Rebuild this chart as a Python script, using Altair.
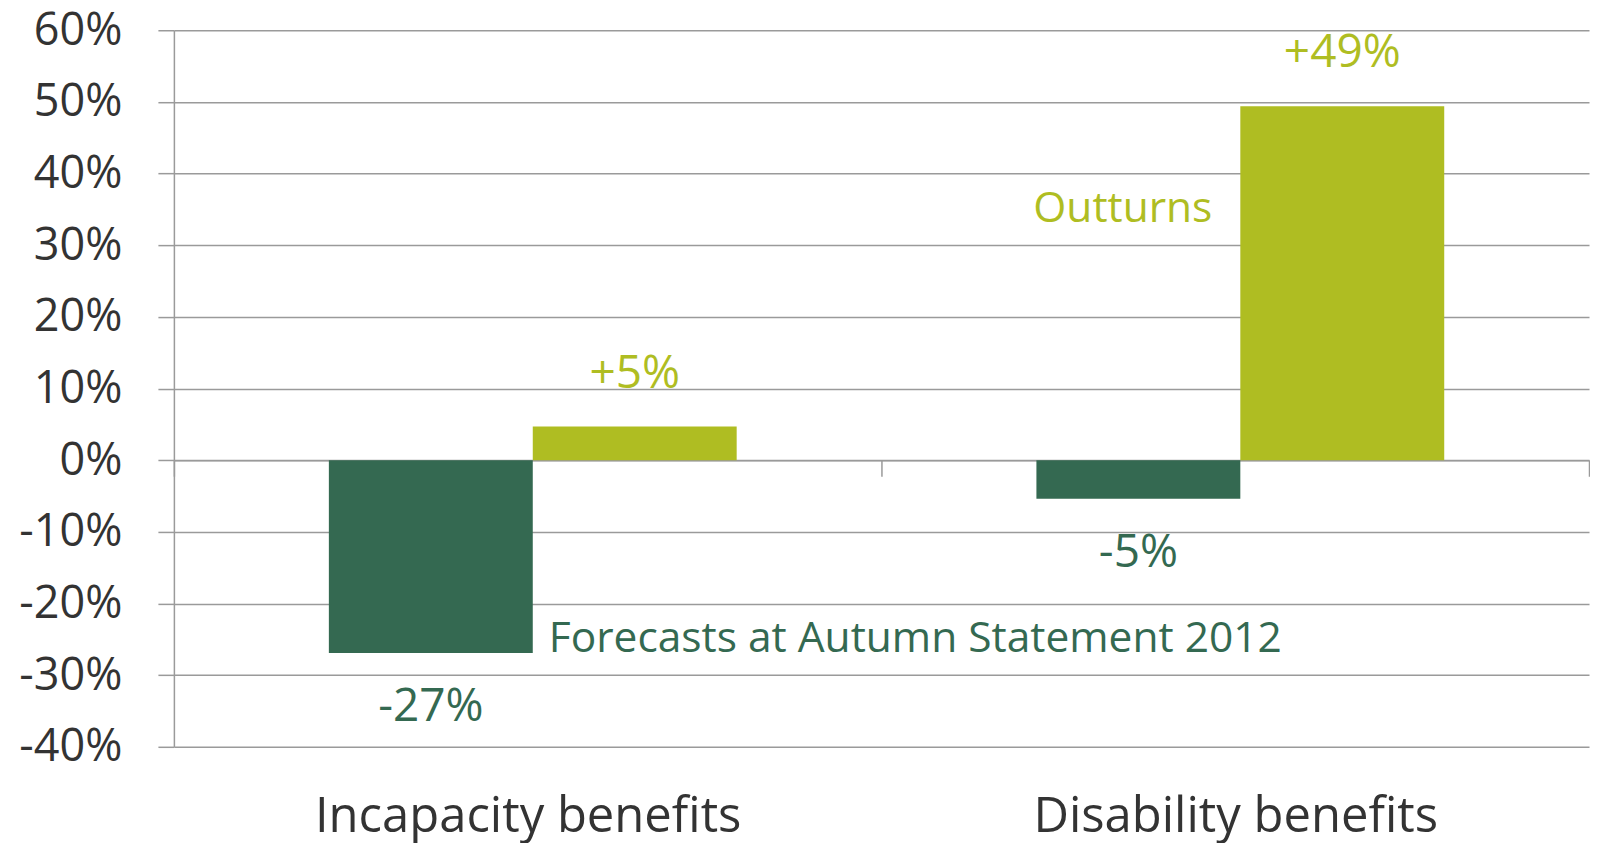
import altair as alt
import pandas as pd

# ---- data ----
categories = ["Incapacity benefits", "Disability benefits"]
series = ["Forecasts at Autumn Statement 2012", "Outturns"]
forecast_values = [-0.269, -0.054]
outturn_values = [0.047, 0.494]
forecast_labels = ["-27%", "-5%"]
outturn_labels = ["+5%", "+49%"]
y_ticks = [-0.4, -0.3, -0.2, -0.1, 0.0, 0.1, 0.2, 0.3, 0.4, 0.5, 0.6]

annot_text = ["Outturns", "Forecasts at Autumn Statement 2012"]
annot_category = ["Disability benefits", "Incapacity benefits"]
annot_series = ["Outturns", "Forecasts at Autumn Statement 2012"]
annot_value = [0.351, -0.249]

rows = []
for i, c in enumerate(categories):
    rows.append({"category": c, "series": series[0], "value": forecast_values[i], "label": forecast_labels[i]})
    rows.append({"category": c, "series": series[1], "value": outturn_values[i], "label": outturn_labels[i]})
df = pd.DataFrame(rows)
df_annot = pd.DataFrame({"category": annot_category, "series": annot_series,
                         "text": annot_text, "value": annot_value})

# ---- style ----
DARK = "#346951"
LIGHT = "#AFBD22"
GRID = "#9A9A9A"
TXT = "#333333"
FONT = "Open Sans"
W = 1416
H = 717
FS_Y = 45
FS_X = 49
FS_VAL = 46
FS_ANN = 42.5

y_scale = alt.Scale(domain=[-0.4, 0.6], nice=False, zero=False)
x_scale = alt.Scale(domain=categories, paddingInner=0, paddingOuter=0)
xoff_scale = alt.Scale(domain=series, paddingInner=0, paddingOuter=0.735, align=0.517)
color_scale = alt.Scale(domain=series, range=[DARK, LIGHT])

x_enc = alt.X("category:N", sort=categories, scale=x_scale,
              axis=alt.Axis(title=None, orient="bottom", offset=-H * 0.4,
                            tickBand="extent", tickSize=16, tickColor=GRID, tickWidth=1.5,
                            domainColor=GRID, domainWidth=1.5, labelPadding=317,
                            labelFontSize=FS_X, labelColor=TXT, labelAngle=0, labelLimit=1000,
                            labelFont=FONT, grid=False))
xo_enc = alt.XOffset("series:N", sort=series, scale=xoff_scale)
y_enc = alt.Y("value:Q", scale=y_scale,
              axis=alt.Axis(title=None, values=y_ticks, format=".0%",
                            labelExpr="replace(datum.label, '\u2212', '-')",
                            tickSize=16, tickColor=GRID, tickWidth=1.5,
                            domainColor=GRID, domainWidth=1.5,
                            gridColor=GRID, gridWidth=1.5, labelPadding=36,
                            labelFontSize=FS_Y, labelColor=TXT, labelFont=FONT))
c_enc = alt.Color("series:N", scale=color_scale, legend=None)

base = alt.Chart(df)
bars = base.mark_bar().encode(x=x_enc, xOffset=xo_enc, y=y_enc, color=c_enc)

pos_lab = base.transform_filter("datum.value > 0").mark_text(
    dy=-53, fontSize=FS_VAL, font=FONT, baseline="middle", align="center"
).encode(x=x_enc, xOffset=xo_enc, y=y_enc, text="label:N", color=c_enc)
neg_lab = base.transform_filter("datum.value < 0").mark_text(
    dy=54, fontSize=FS_VAL, font=FONT, baseline="middle", align="center"
).encode(x=x_enc, xOffset=xo_enc, y=y_enc, text="label:N", color=c_enc)

abase = alt.Chart(df_annot)
ann_right = abase.transform_filter("datum.series == 'Outturns'").mark_text(
    dx=-130, fontSize=FS_ANN, font=FONT, baseline="middle", align="right"
).encode(x=x_enc, xOffset=xo_enc, y=y_enc, text="text:N", color=c_enc)
ann_left = abase.transform_filter("datum.series != 'Outturns'").mark_text(
    dx=118, fontSize=FS_ANN, font=FONT, baseline="middle", align="left"
).encode(x=x_enc, xOffset=xo_enc, y=y_enc, text="text:N", color=c_enc)

chart = alt.layer(bars, pos_lab, neg_lab, ann_right, ann_left).properties(
    width=W, height=H,
    padding={"left": 10, "top": 0, "right": 0, "bottom": 8},
    background="white",
).configure_view(stroke=None)

chart.save("out.html", embed_options={"renderer": "svg", "actions": False})
